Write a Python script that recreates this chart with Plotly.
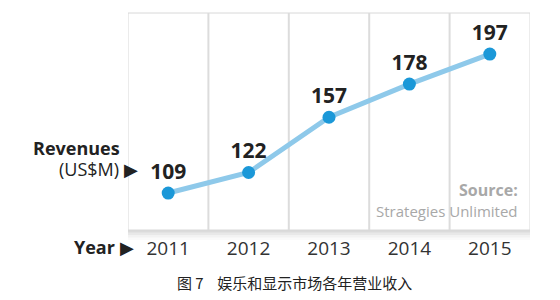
import plotly.graph_objects as go

years = ["2011", "2012", "2013", "2014", "2015"]
revenues = [109, 122, 157, 178, 197]
caption = "图 7    娱乐和显示市场各年营业收入"
source_title = "Source:"
source_name = "Strategies Unlimited"

FONT = "Open Sans"
xs = list(range(len(years)))

fig = go.Figure()
fig.add_trace(go.Scatter(
    x=xs, y=revenues, mode="lines+markers+text",
    line=dict(color="#8ec9ea", width=5),
    marker=dict(color="#1b98d8", size=13),
    text=[f"<b>{v}</b>" for v in revenues], textposition="top center",
    textfont=dict(family=FONT, size=21, color="#222"),
    cliponaxis=False, showlegend=False, hoverinfo="skip",
))

shapes = []
# soft shadow around plot box
for i, op in enumerate([0.05, 0.04, 0.03, 0.02]):
    d = (i + 1) * 2.5
    shapes.append(dict(type="rect", xref="x", yref="paper",
                       x0=-0.5 - d / 80.4, x1=4.5 + d / 80.4,
                       y0=0 - d / 217, y1=1,
                       line=dict(width=0), fillcolor=f"rgba(0,0,0,{op})", layer="below"))
shapes.append(dict(type="rect", xref="x", yref="paper", x0=-0.5, x1=4.5, y0=0, y1=1,
                   line=dict(color="#d8d8d8", width=1), fillcolor="white", layer="below"))
for i in range(len(years) - 1):
    shapes.append(dict(type="line", xref="x", yref="paper", x0=i + 0.5, x1=i + 0.5,
                       y0=0, y1=1, line=dict(color="#dcdcdc", width=2), layer="below"))

annotations = [
    dict(text="<b>Revenues</b>", xref="paper", yref="paper", x=-0.015, y=0.38,
         xanchor="right", yanchor="middle", showarrow=False,
         font=dict(family=FONT, size=18, color="#222")),
    dict(text="(US$M) ▶", xref="paper", yref="paper", x=0.03, y=0.28,
         xanchor="right", yanchor="middle", showarrow=False,
         font=dict(family=FONT, size=18, color="#222")),
    dict(text="<b>Year</b> ▶", xref="paper", yref="paper", x=0.02, y=-0.078,
         xanchor="right", yanchor="middle", showarrow=False,
         font=dict(family=FONT, size=18, color="#222")),
    dict(text=f"<b>{source_title}</b>", xref="paper", yref="paper", x=0.975, y=0.185,
         xanchor="right", yanchor="middle", showarrow=False,
         font=dict(family=FONT, size=16, color="#a8a8a8")),
    dict(text=source_name, xref="paper", yref="paper", x=0.975, y=0.088,
         xanchor="right", yanchor="middle", showarrow=False,
         font=dict(family=FONT, size=15, color="#a8a8a8")),
    dict(text=caption, xref="paper", yref="paper", x=0.415, y=-0.24,
         xanchor="center", yanchor="middle", showarrow=False,
         font=dict(family="Noto Sans CJK SC", size=15, color="#222")),
]

fig.update_layout(
    width=560, height=300,
    margin=dict(l=128, r=30, t=13, b=70),
    paper_bgcolor="white", plot_bgcolor="rgba(0,0,0,0)",
    shapes=shapes, annotations=annotations,
    xaxis=dict(range=[-0.5, 4.5], tickvals=xs, ticktext=years, showgrid=False,
               zeroline=False, showline=False, ticks="",
               tickfont=dict(family=FONT, size=19, color="#333"),
               ticklabelstandoff=5),
    yaxis=dict(range=[85.6, 223], visible=False),
)

fig.write_html("out.html")
